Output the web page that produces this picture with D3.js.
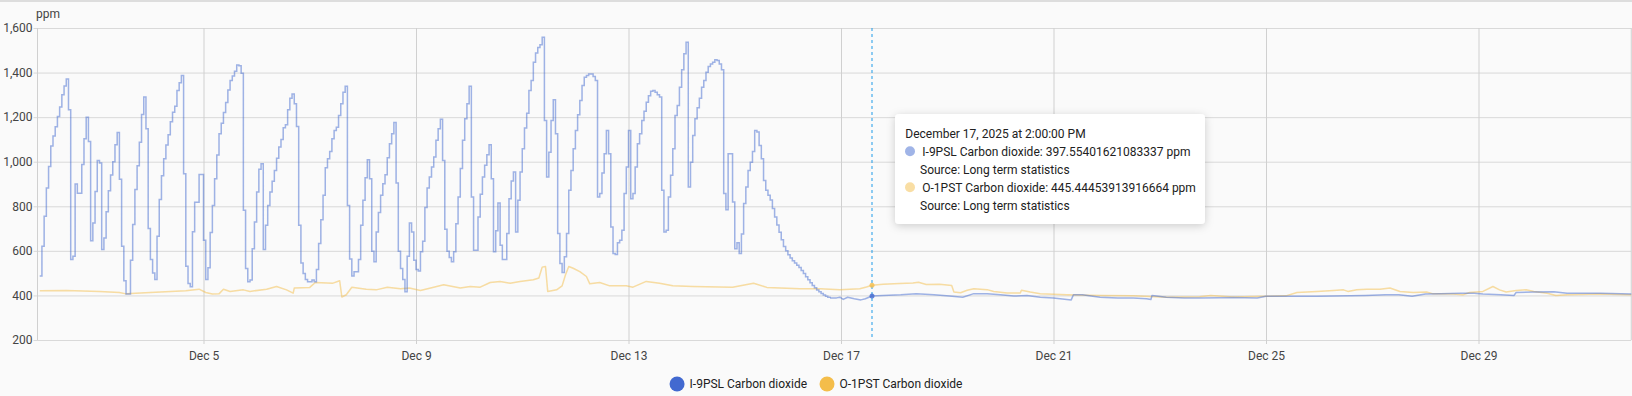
<!DOCTYPE html>
<html>
<head>
<meta charset="utf-8">
<script src="https://cdn.jsdelivr.net/npm/d3@7"></script>
<style>
    html, body { margin: 0; padding: 0; background: #fafafa; }
    svg { display: block; font-family: Roboto, "Noto Sans", sans-serif; }
</style>
</head>
<body>
<svg id="chart"></svg>
<script>
const width = 1632, height = 396;
const margin = ({top: 28, right: 0.75, bottom: 56, left: 37.5});

// Time axis: hours counted from this moment
const startTime = new Date(2025, 11, 1, 21, 0, 0);
const endHour = 720;

const seriesNames = ["I-9PSL Carbon dioxide", "O-1PST Carbon dioxide"];
const seriesColors = ["#4269d0", "#f4bd4a"];
const yTicks = [200, 400, 600, 800, 1000, 1200, 1400, 1600];
const unitLabel = "ppm";

// I-9PSL, one value per hour starting at hour 1
const indoorHourly = [
    487, 621, 755, 882, 979, 1070, 1115, 1157, 1203, 1245, 1301, 1340, 1371, 1233, 561, 576,
    900, 858, 858, 988, 1103, 1200, 1091, 645, 725, 866, 1006, 994, 606, 658,
    775, 870, 940, 1000, 1076, 1131, 921, 621, 466, 406, 406,
    558, 718, 875, 982, 1087, 1212, 1290, 1148, 700, 561, 501, 472,
    666, 831, 937, 1013, 1075, 1121, 1179, 1222, 1249, 1319, 1354, 1387, 946, 531, 454, 439,
    686, 818, 818, 943, 943, 648, 472, 524, 682, 804, 924, 1030, 1125, 1173, 1221, 1266, 1322, 1364, 1385, 1406, 1434, 1431, 1397, 782,
    521, 461, 469, 610, 730, 864, 966, 991, 606, 715, 804, 864, 912, 961, 1016, 1066, 1100, 1152, 1166, 1233, 1285, 1304, 1260, 1158,
    715, 546, 498, 472, 461, 461, 469, 461, 516, 633, 740, 849, 973, 1013, 1046, 1103, 1140, 1155, 1207, 1260, 1312, 1339,
    804, 563, 487, 506, 506, 561, 715, 827, 928, 1009, 924, 598, 551, 685, 772, 849, 901, 942, 1018, 1081, 1125, 1176,
    904, 598, 521, 472, 416, 576, 725, 685, 558, 516, 510, 596, 643, 794, 882, 931, 976, 1021, 1096, 1148, 1190,
    1006, 697, 598, 570, 551, 596, 722, 842, 969, 1096, 1193, 1260, 1339,
    842, 603, 603, 752, 854, 931, 984, 1031, 1076,
    924, 596, 690, 815, 625, 561, 561, 678, 834, 913, 954, 685, 827, 954, 1058, 1151, 1218, 1319, 1364, 1446, 1488, 1513, 1525, 1558, 1185, 931, 1043, 1185, 1278, 1125,
    678, 543, 503, 573, 678, 872, 961, 1058, 1140, 1211, 1275, 1342, 1379, 1387, 1394, 1394, 1382, 1364, 842, 857, 949, 1036, 1140, 1036,
    707, 588, 584, 636, 648, 693, 857, 976, 1140, 834, 857, 976, 1081, 1125, 1185, 1227, 1267, 1296, 1316, 1319, 1312, 1301, 1290,
    872, 685, 693, 842, 939, 1058, 1207, 1252, 1334, 1413, 1484, 1536, 887, 998, 1118, 1193, 1242, 1285, 1334, 1364, 1401, 1427, 1439, 1446, 1457, 1454, 1439, 1413,
    857, 785, 1036, 1036, 819, 610, 636, 588, 676, 812, 887, 961, 998, 1046, 1140, 1133, 1073, 1013, 916,
    872, 850, 828, 790, 752, 716, 683, 650, 619, 600, 583, 568, 556, 545, 535, 525, 512, 498, 484, 470, 457, 445, 434, 424, 416, 409, 402, 396, 392, 388
];

// I-9PSL once it settles, [hour, ppm]
const indoorTail = [
    [358, 388], [361, 389], [362.5, 392], [364, 382], [366, 392], [369, 385], [372, 380], [374, 385],
    [377, 397.55], [382, 400], [390, 403], [397, 408], [405, 403], [412, 397], [418, 392], [423, 408],
    [429, 408], [435, 403], [441, 397], [447, 400], [453, 392], [459, 388], [465, 382], [467, 380],
    [468, 403], [472, 403], [480, 392], [488, 388], [495, 388], [501, 385], [503, 382], [503.5, 400],
    [510, 392], [518, 388], [525, 388], [534, 390], [540, 391], [551, 388], [555, 396], [567, 396],
    [578, 396], [593, 398], [600, 400], [609, 403], [615, 403], [621, 396], [627, 406], [634, 407],
    [643, 410], [649, 410], [653, 406], [661, 403], [667, 400], [668, 413], [676, 415], [685, 416],
    [691, 410], [706, 410], [720, 406]
];

// O-1PST, [hour, ppm]
const outdoorPoints = [
    [1, 421], [13, 422], [28, 418], [37, 413], [40, 407], [51, 413], [67, 421], [73, 428], [76, 413],
    [79, 406], [82, 407], [84, 428], [87, 418], [93, 425], [96, 418], [103.5, 428], [108, 440],
    [112.5, 425], [115.5, 410], [116, 433], [123, 436], [125.5, 458], [133.5, 455], [136.5, 466],
    [137.5, 393], [139.5, 403], [142, 437], [148.5, 428], [153, 425], [158, 437], [164, 430],
    [168, 433], [173, 422], [179, 437], [183.5, 448], [191, 433], [195.5, 440], [200, 437],
    [204.5, 458], [209, 463], [213.5, 455], [218, 463], [224, 470], [226.5, 478], [228, 527],
    [229.5, 530], [230.5, 418], [234.5, 425], [237, 443], [238.5, 492], [240, 530], [242, 522],
    [245, 507], [248, 485], [249.5, 452], [254, 458], [258.5, 443], [266, 443], [269, 437],
    [275, 463], [281, 455], [287, 443], [296, 440], [314, 437], [323.5, 455], [329.5, 436],
    [344.5, 430], [353.5, 430], [362.5, 426], [371.5, 430], [374.5, 438], [377, 445.44], [382, 450],
    [389.5, 453], [395.5, 456], [398, 459], [401.5, 449], [407.5, 450], [413, 445], [414, 415],
    [417, 412], [420, 423], [423, 430], [429, 426], [432, 418], [438, 411], [444, 411], [444.5, 423],
    [448.5, 415], [453, 408], [459, 405], [465, 403], [480, 400], [495, 398], [502.5, 395],
    [510, 392], [525, 394], [530, 400], [540, 393], [555, 396], [564, 398], [569, 413], [578, 418],
    [585.5, 422], [590, 425], [592, 418], [596, 425], [600.5, 428], [606.5, 428], [611, 433],
    [615.5, 418], [621.5, 413], [627.5, 415], [630.5, 407], [639.5, 406], [644, 403], [647, 413],
    [653, 418], [657.5, 440], [660.5, 425], [663.5, 415], [668, 422], [672.5, 425], [676, 418],
    [682, 410], [686, 400], [691, 403], [706, 406], [720, 403]
];

// Hovered moment shown in the tooltip
const hoverHour = 377;
const hoverValues = [397.55401621083337, 445.44453913916664];
const hoverSource = "Source: Long term statistics";

const hourToDate = h => new Date(startTime.getTime() + h * 3600 * 1000);

const svg = d3.select("#chart")
    .attr("width", width)
    .attr("height", height);

svg.append("rect").attr("width", width).attr("height", height).attr("fill", "#fafafa");
// thin card border at the top
svg.append("rect").attr("width", width).attr("height", 2).attr("fill", "#dddddd");

const x = d3.scaleTime()
    .domain([startTime, hourToDate(endHour)])
    .range([margin.left, width - margin.right]);
const y = d3.scaleLinear()
    .domain([200, 1600])
    .range([height - margin.bottom, margin.top]);

// Y axis + horizontal grid
const gy = svg.append("g")
    .attr("transform", `translate(${margin.left},0)`)
    .call(d3.axisLeft(y).tickValues(yTicks).tickFormat(d3.format(",")).tickSizeOuter(0));
gy.select(".domain").remove();
gy.selectAll(".tick line")
    .attr("x1", -4)
    .attr("x2", width - margin.right - margin.left)
    .attr("stroke", "#d9d9d9");
gy.selectAll(".tick text")
    .attr("x", -5)
    .attr("fill", "#444")
    .attr("font-size", 12)
    .attr("font-family", "Roboto");

// X axis + vertical grid
const gx = svg.append("g")
    .attr("transform", `translate(0,${height - margin.bottom})`)
    .call(d3.axisBottom(x)
        .ticks(d3.timeDay.every(4))
        .tickFormat(d3.timeFormat("%b %-d"))
        .tickSizeOuter(0)
        .tickPadding(5));
gx.select(".domain").remove();
gx.selectAll(".tick line")
    .attr("y1", -(height - margin.bottom - margin.top))
    .attr("y2", 4)
    .attr("stroke", "#d0d0d0");
gx.selectAll(".tick text")
    .attr("fill", "#444")
    .attr("font-size", 12)
    .attr("font-family", "Roboto");

// plot frame: left and right edges
[margin.left, width - margin.right].forEach(px => {
    svg.append("line")
        .attr("x1", px).attr("x2", px)
        .attr("y1", margin.top).attr("y2", height - margin.bottom)
        .attr("stroke", "#d0d0d0");
});

svg.append("text")
    .attr("x", 36)
    .attr("y", 18)
    .attr("fill", "#444")
    .attr("font-size", 12)
    .text(unitLabel);

// Lines
const indoorPoints = indoorHourly.map((v, i) => [i + 1, v]);

const stepLine = d3.line()
    .x(d => x(hourToDate(d[0])))
    .y(d => y(d[1]))
    .curve(d3.curveStepAfter);
const smoothLine = d3.line()
    .x(d => x(hourToDate(d[0])))
    .y(d => y(d[1]));

svg.append("path")
    .attr("fill", "none")
    .attr("stroke", seriesColors[1])
    .attr("stroke-opacity", 0.5)
    .attr("stroke-width", 1.5)
    .attr("stroke-linejoin", "round")
    .attr("d", smoothLine(outdoorPoints));

svg.append("path")
    .attr("fill", "none")
    .attr("stroke", seriesColors[0])
    .attr("stroke-opacity", 0.5)
    .attr("stroke-width", 1.5)
    .attr("d", stepLine(indoorPoints));
svg.append("path")
    .attr("fill", "none")
    .attr("stroke", seriesColors[0])
    .attr("stroke-opacity", 0.5)
    .attr("stroke-width", 1.5)
    .attr("stroke-linejoin", "round")
    .attr("d", smoothLine(indoorTail));

// Crosshair at hovered time
const hx = x(hourToDate(hoverHour));
svg.append("line")
    .attr("x1", hx).attr("x2", hx)
    .attr("y1", margin.top).attr("y2", height - margin.bottom)
    .attr("stroke", "#1e9be9")
    .attr("stroke-width", 1)
    .attr("stroke-dasharray", "3,3");
svg.selectAll("circle.hover")
    .data(hoverValues)
    .enter()
    .append("circle")
    .attr("class", "hover")
    .attr("cx", hx)
    .attr("cy", d => y(d))
    .attr("r", 2.5)
    .attr("fill", (d, i) => seriesColors[i])
    .attr("fill-opacity", 0.8);

// Tooltip
const defs = svg.append("defs");
const shadow = defs.append("filter").attr("id", "shadow")
    .attr("x", "-20%").attr("y", "-30%").attr("width", "140%").attr("height", "160%");
shadow.append("feDropShadow")
    .attr("dx", 0).attr("dy", 2)
    .attr("stdDeviation", 4)
    .attr("flood-color", "#000")
    .attr("flood-opacity", 0.18);

const tip = svg.append("g").attr("transform", "translate(895,114)");
tip.append("rect")
    .attr("width", 310)
    .attr("height", 110)
    .attr("rx", 4)
    .attr("fill", "#fff")
    .attr("filter", "url(#shadow)");

const tipFormat = d3.timeFormat("%B %-d, %Y at %-I:%M:%S %p");
tip.append("text")
    .attr("x", 10.3).attr("y", 23.7)
    .attr("font-size", 12).attr("fill", "#212121")
    .text(tipFormat(hourToDate(hoverHour)));

seriesNames.forEach((name, i) => {
    const base = 42.3 + i * 36;
    tip.append("circle")
        .attr("cx", 15).attr("cy", base - 5)
        .attr("r", 5)
        .attr("fill", seriesColors[i])
        .attr("fill-opacity", 0.5);
    tip.append("text")
        .attr("x", 27.3).attr("y", base)
        .attr("font-size", 12).attr("fill", "#212121")
        .text(`${name}: ${hoverValues[i]} ${unitLabel}`);
    tip.append("text")
        .attr("x", 25).attr("y", base + 17.7)
        .attr("font-size", 12).attr("fill", "#212121")
        .text(hoverSource);
});

// Legend centred under the chart
const legend = svg.append("g");
let cursor = 0;
seriesNames.forEach((name, i) => {
    const item = legend.append("g").attr("transform", `translate(${cursor},0)`);
    item.append("circle")
        .attr("cx", 7.5).attr("cy", 0)
        .attr("r", 7.5)
        .attr("fill", seriesColors[i]);
    const t = item.append("text")
        .attr("x", 20).attr("y", 4.2)
        .attr("font-size", 12).attr("fill", "#212121")
        .text(name);
    cursor += 20 + t.node().getComputedTextLength() + 12.5;
});
const legendWidth = cursor - 12.5;
legend.attr("transform", `translate(${width / 2 - legendWidth / 2},384)`);
</script>
</body>
</html>
